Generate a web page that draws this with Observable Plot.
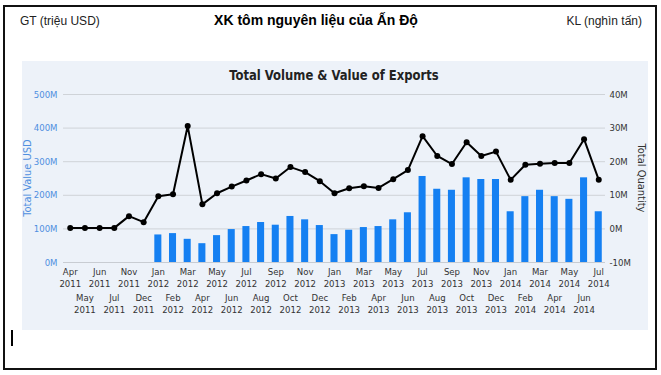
<!DOCTYPE html>
<html>
<head>
<meta charset="utf-8">
<script src="https://cdn.jsdelivr.net/npm/d3@7"></script>
<script src="https://cdn.jsdelivr.net/npm/@observablehq/plot@0.6"></script>
<style>
  body { margin: 0; background: #fff; }
  #wrap { position: relative; width: 661px; height: 375px; background: #fff; font-family: 'Liberation Sans', Arial, sans-serif; overflow: hidden; }
  .abs { position: absolute; white-space: nowrap; }
  #panel { position: absolute; left: 22px; top: 61px; width: 626px; height: 269px; background: #edf2f9; }
  #panel svg { position: absolute; left: 0; top: 0; }
  .narrow { font-family: 'Liberation Sans Narrow', 'DejaVu Sans Condensed', 'Liberation Sans', sans-serif; }
</style>
</head>
<body>
<div id="wrap">
  <div class="abs" style="left:3px;top:5px;width:654px;height:365px;border:2px solid #111;box-sizing:border-box;"></div>
  <div class="abs" style="left:20px;top:14px;font-size:12px;color:#222;">GT (triệu USD)</div>
  <div class="abs" style="left:316px;top:12px;transform:translateX(-50%);font-size:14px;font-weight:bold;color:#000;">XK tôm nguyên liệu của Ấn Độ</div>
  <div class="abs" style="right:19px;top:14px;font-size:12px;color:#222;">KL (nghìn tấn)</div>
  <div id="panel">
    <div class="abs narrow" style="left:312px;top:6px;transform:translateX(-50%) scaleX(0.89);font-size:14.5px;font-weight:bold;color:#222;">Total Volume &amp; Value of Exports</div>
    <div class="abs narrow" style="left:5px;top:117px;transform:translate(-50%,-50%) rotate(-90deg);font-size:11px;color:#4f8fe0;">Total Value USD</div>
    <div class="abs narrow" style="left:619px;top:117px;transform:translate(-50%,-50%) rotate(90deg);font-size:11px;color:#333;">Total Quantity</div>
  </div>
  <div class="abs" style="left:11px;top:330px;width:2px;height:16px;background:#000;"></div>
</div>
<script>
const months = ["Apr 2011","May 2011","Jun 2011","Jul 2011","Nov 2011","Dec 2011",
  "Jan 2012","Feb 2012","Mar 2012","Apr 2012","May 2012","Jun 2012","Jul 2012","Aug 2012","Sep 2012","Oct 2012","Nov 2012","Dec 2012",
  "Jan 2013","Feb 2013","Mar 2013","Apr 2013","May 2013","Jun 2013","Jul 2013","Aug 2013","Sep 2013","Oct 2013","Nov 2013","Dec 2013",
  "Jan 2014","Feb 2014","Mar 2014","Apr 2014","May 2014","Jun 2014","Jul 2014"];
// Total Quantity (M), right axis
const quantity = [0.3,0.3,0.3,0.3,3.8,2.0,
  9.7,10.3,30.6,7.3,10.6,12.6,14.4,16.3,15.0,18.4,16.9,14.2,
  10.6,12.1,12.7,12.2,14.8,17.5,27.6,21.7,19.3,25.8,21.7,23.0,
  14.6,19.1,19.4,19.6,19.6,26.7,14.6];
// Total Value USD (M), left axis, starting Jan 2012
const valueMonths = months.slice(6);
const values = [82,86,69,56,80,98,107,119,111,137,127,110,
  83,96,104,107,127,148,256,218,215,252,247,247,
  151,196,215,196,188,252,151];
const leftTicks = [0,100,200,300,400,500];
const rightTicks = [-10,0,10,20,30,40];

// map right axis (quantity) onto left axis scale: q -> 100 + 10*q
const toLeft = q => 100 + 10 * q;
const bars = valueMonths.map((m, i) => ({month: m, value: values[i]}));
const line = months.map((m, i) => ({month: m, q: quantity[i], y: toLeft(quantity[i])}));
const evenMonths = months.filter((d, i) => i % 2 === 0);
const oddMonths = months.filter((d, i) => i % 2 === 1);
const twoLine = d => d.replace(" ", "\n");

const chart = Plot.plot({
  width: 626,
  height: 269,
  marginLeft: 41,
  marginRight: 43,
  marginTop: 33,
  marginBottom: 68,
  style: {fontFamily: "'Liberation Sans Narrow', 'DejaVu Sans Condensed', 'Liberation Sans', sans-serif", fontSize: "10px", background: "transparent", overflow: "visible"},
  x: {type: "band", domain: months, paddingInner: 0.52, paddingOuter: 0.22, round: false},
  y: {domain: [0, 500]},
  marks: [
    Plot.gridY(leftTicks.slice(1), {stroke: "#cfd3d8", strokeOpacity: 1}),
    Plot.barY(bars, {x: "month", y: "value", fill: "#1580f2"}),
    Plot.ruleY([0], {stroke: "#c8ccd2"}),
    Plot.line(line, {x: "month", y: "y", stroke: "#000", strokeWidth: 2}),
    Plot.dot(line, {x: "month", y: "y", fill: "#000", r: 3}),
    Plot.axisY(leftTicks, {anchor: "left", tickSize: 0, tickPadding: 6, tickFormat: d => d + "M", label: null, fill: "#4f8fe0", fontSize: 9.5}),
    Plot.axisY(rightTicks.map(toLeft), {anchor: "right", tickSize: 0, tickPadding: 4, tickFormat: d => Math.round(d / 10 - 10) + "M", label: null, fill: "#333", fontSize: 9.5}),
    Plot.axisX(evenMonths, {anchor: "bottom", tickSize: 0, tickPadding: 3, lineHeight: 1.35, tickFormat: twoLine, label: null, fill: "#333", fontSize: 9.5}),
    Plot.axisX(oddMonths, {anchor: "bottom", tickSize: 0, tickPadding: 29, lineHeight: 1.35, tickFormat: twoLine, label: null, fill: "#333", fontSize: 9.5})
  ]
});
document.getElementById("panel").prepend(chart);
</script>
</body>
</html>
